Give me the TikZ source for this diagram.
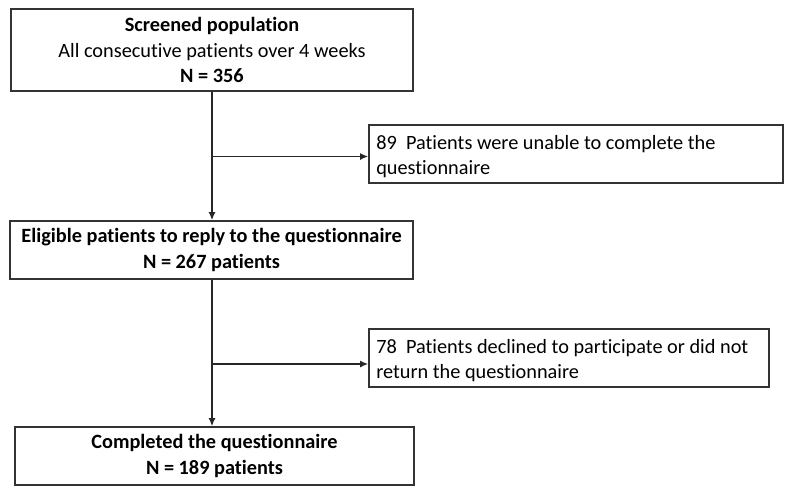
\documentclass[tikz,border=0pt]{standalone}
\usepackage{fontspec}
\setmainfont{Carlito}[Ligatures=NoCommon]
\usetikzlibrary{arrows.meta}
\begin{document}
\begin{tikzpicture}[x=1pt,y=-1pt,
  box/.style={draw=black!80, line width=1.8pt, inner sep=0pt, align=center,
    font=\fontsize{20.3}{25.5}\selectfont},
  sidebox/.style={draw=black!80, line width=1.8pt, inner sep=0pt},
  sidetext/.style={inner sep=0pt, align=left, anchor=west,
    font=\fontsize{20.3}{25}\selectfont},
  conn/.style={draw=black!85, line width=1.3pt, -{Latex[length=8pt,width=7pt]}}]
\useasboundingbox (0,0) rectangle (797,499);
\node[box, minimum width=402pt, minimum height=82pt] (top) at (212,50)
  {\textbf{Screened population}\\All consecutive patients over 4 weeks\\\textbf{N = 356}};
\node[box, minimum width=403pt, minimum height=58pt] (mid) at (211.5,250)
  {\textbf{Eligible patients to reply to the questionnaire}\\\textbf{N = 267 patients}};
\node[box, minimum width=399pt, minimum height=58pt] (bot) at (214.5,456)
  {\textbf{Completed the questionnaire}\\\textbf{N = 189 patients}};
\node[sidebox, minimum width=414pt, minimum height=58pt] (r1) at (576,154) {};
\node[sidetext] (t1) at ([xshift=8pt,yshift=-3pt]r1.west)
  {89\ \ Patients were unable to complete the\\questionnaire};
\node[sidebox, minimum width=400pt, minimum height=58pt] (r2) at (569,358) {};
\node[sidetext] (t2) at ([xshift=8pt,yshift=-2.5pt]r2.west)
  {78\ \ Patients declined to participate or did not\\return the questionnaire};
\coordinate (j1) at (212,156.5);
\coordinate (j2) at (212,364);
\draw[conn] (top.south) -- (top.south |- mid.north);
\draw[conn] (mid.south -| top.south) -- (top.south |- bot.north);
\draw[conn] (j1) -- (r1.west |- j1);
\draw[conn] (j2) -- (r2.west |- j2);
\end{tikzpicture}
\end{document}
